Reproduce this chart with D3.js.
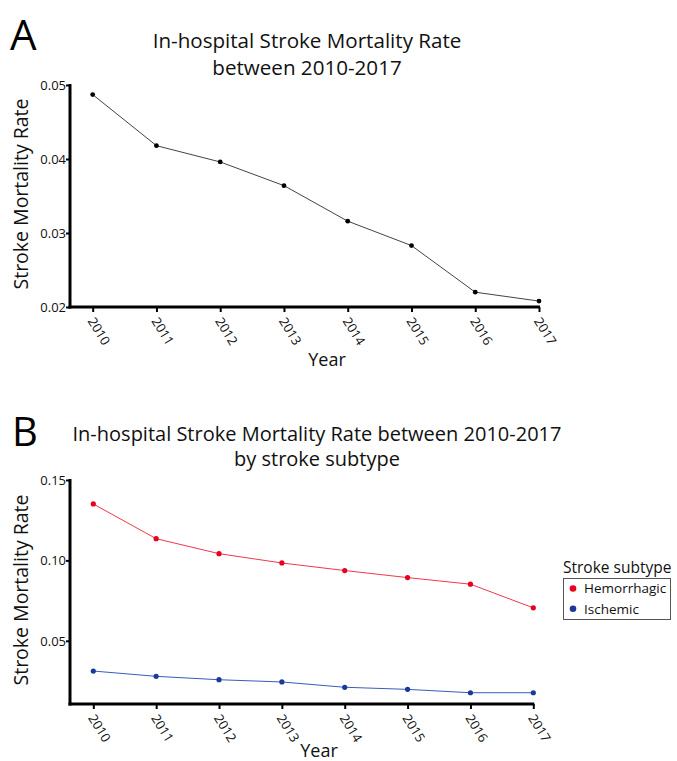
<!DOCTYPE html>
<html>
<head>
<meta charset="utf-8">
<script src="https://cdn.jsdelivr.net/npm/d3@7"></script>
<style>
  body { margin: 0; background: #fff; }
  svg { display: block; font-family: "Open Sans", "Noto Sans", sans-serif; }
</style>
</head>
<body>
<svg id="chart" width="677" height="761"></svg>
<script>
// Data
const years = [2010, 2011, 2012, 2013, 2014, 2015, 2016, 2017];
const overallRate = [0.0487, 0.0418, 0.0396, 0.0364, 0.0316, 0.0283, 0.0220, 0.0208];
const hemorrhagicRate = [0.1351, 0.1135, 0.1042, 0.0984, 0.0937, 0.0893, 0.0852, 0.0705];
const ischemicRate = [0.0312, 0.0279, 0.0258, 0.0244, 0.0211, 0.0198, 0.0177, 0.0177];
const ticksA = [0.02, 0.03, 0.04, 0.05];
const ticksB = [0.05, 0.10, 0.15];
const subtypes = ["Hemorrhagic", "Ischemic"];
const subtypeColors = { Hemorrhagic: "#e8001c", Ischemic: "#1a3a9a" };
const lineColors = { Hemorrhagic: "#f0384a", Ischemic: "#3a5bc0" };

const svg = d3.select('#chart');

// draws axes + labels for one panel
function drawAxes(g, x, y, yTicks, fmt, yTitleCenter, yearPos) {
    const x1 = x.range()[1] + 1;
    const [yb, yt] = y.range();

    // y axis
    const ya = g.append('g').attr('transform', 'translate(70,0)')
        .call(d3.axisLeft(y).tickValues(yTicks).tickFormat(fmt).tickSize(4).tickSizeOuter(0));
    ya.select('.domain').remove();
    ya.selectAll('.tick line').attr('stroke', '#000').attr('stroke-width', 2);
    ya.selectAll('.tick text').attr('font-size', 13).attr('fill', '#111')
        .attr('font-family', '"Open Sans", sans-serif').attr('x', -4).attr('dy', '0.35em');

    // x axis
    const xa = g.append('g').attr('transform', 'translate(0,' + yb + ')')
        .call(d3.axisBottom(x).tickSize(5).tickSizeOuter(0));
    xa.select('.domain').remove();
    xa.selectAll('.tick line').attr('stroke', '#000').attr('stroke-width', 2);
    xa.selectAll('.tick text')
        .attr('font-size', 13).attr('fill', '#111')
        .attr('font-family', '"Open Sans", sans-serif')
        .attr('text-anchor', 'start')
        .attr('y', 0).attr('dy', 0)
        .attr('transform', 'translate(-6,14) rotate(58)');

    // thick axis lines
    g.append('line').attr('x1', 70).attr('x2', 70).attr('y1', yt - 1).attr('y2', yb + 1.5)
        .attr('stroke', '#000').attr('stroke-width', 3);
    g.append('line').attr('x1', 68.5).attr('x2', x1).attr('y1', yb).attr('y2', yb)
        .attr('stroke', '#000').attr('stroke-width', 3);

    g.append('text')
        .attr('transform', 'translate(28,' + yTitleCenter + ') rotate(-90)')
        .attr('text-anchor', 'middle').attr('font-size', 19.5).attr('fill', '#111')
        .text('Stroke Mortality Rate');

    g.append('text').attr('x', yearPos[0]).attr('y', yearPos[1])
        .attr('text-anchor', 'middle').attr('font-size', 18).attr('fill', '#111')
        .text('Year');
}

// ---------- Panel A ----------
const gA = svg.append('g');
const xA = d3.scalePoint().domain(years).range([92.7, 539]);
const yA = d3.scaleLinear().domain([0.02, 0.05]).range([307, 85]);

gA.append('text').attr('x', 10).attr('y', 50).attr('font-size', 42).attr('fill', '#000').text('A');
gA.append('text').attr('x', 307).attr('y', 48).attr('text-anchor', 'middle').attr('font-size', 20.6)
    .attr('fill', '#111').text('In-hospital Stroke Mortality Rate');
gA.append('text').attr('x', 307).attr('y', 75).attr('text-anchor', 'middle').attr('font-size', 20.6)
    .attr('fill', '#111').text('between 2010-2017');

drawAxes(gA, xA, yA, ticksA, d3.format('.2f'), 194, [327, 366]);

const lineA = d3.line().x((d, i) => xA(years[i])).y(d => yA(d));
gA.append('path').datum(overallRate).attr('d', lineA)
    .attr('fill', 'none').attr('stroke', '#444').attr('stroke-width', 1);
gA.selectAll('circle.pt').data(overallRate).enter().append('circle')
    .attr('class', 'pt')
    .attr('cx', (d, i) => xA(years[i])).attr('cy', d => yA(d)).attr('r', 2.4)
    .attr('fill', '#000');

// ---------- Panel B ----------
const gB = svg.append('g');
const xB = d3.scalePoint().domain(years).range([93.3, 533.3]);
const yB = d3.scaleLinear().domain([0.0107, 0.15]).range([704, 480]);

gB.append('text').attr('x', 12).attr('y', 446).attr('font-size', 40).attr('fill', '#000').text('B');
gB.append('text').attr('x', 317).attr('y', 441).attr('text-anchor', 'middle').attr('font-size', 20)
    .attr('fill', '#111').text('In-hospital Stroke Mortality Rate between 2010-2017');
gB.append('text').attr('x', 317).attr('y', 466).attr('text-anchor', 'middle').attr('font-size', 20)
    .attr('fill', '#111').text('by stroke subtype');

drawAxes(gB, xB, yB, ticksB, d3.format('.2f'), 590, [319, 757]);

const seriesB = [
    { name: 'Hemorrhagic', values: hemorrhagicRate },
    { name: 'Ischemic', values: ischemicRate }
];
const lineB = d3.line().x((d, i) => xB(years[i])).y(d => yB(d));
seriesB.forEach(s => {
    gB.append('path').datum(s.values).attr('d', lineB)
        .attr('fill', 'none').attr('stroke', lineColors[s.name]).attr('stroke-width', 1);
    gB.selectAll('circle.' + s.name).data(s.values).enter().append('circle')
        .attr('class', s.name)
        .attr('cx', (d, i) => xB(years[i])).attr('cy', d => yB(d)).attr('r', 2.6)
        .attr('fill', subtypeColors[s.name]);
});

// legend
const legend = gB.append('g').attr('transform', 'translate(563,0)');
legend.append('text').attr('x', 0).attr('y', 573).attr('font-size', 15.5).attr('fill', '#111')
    .text('Stroke subtype');
legend.append('rect').attr('x', 0.5).attr('y', 578.5).attr('width', 107).attr('height', 41)
    .attr('fill', '#fff').attr('stroke', '#555').attr('stroke-width', 1);
const items = legend.selectAll('g.item').data(subtypes).enter().append('g')
    .attr('class', 'item')
    .attr('transform', (d, i) => 'translate(0,' + (588.5 + i * 20.3) + ')');
items.append('circle').attr('cx', 10).attr('cy', 0).attr('r', 3.3).attr('fill', d => subtypeColors[d]);
items.append('text').attr('x', 21).attr('y', 0).attr('dy', '0.35em').attr('font-size', 13.5)
    .attr('fill', '#111').text(d => d);
</script>
</body>
</html>
